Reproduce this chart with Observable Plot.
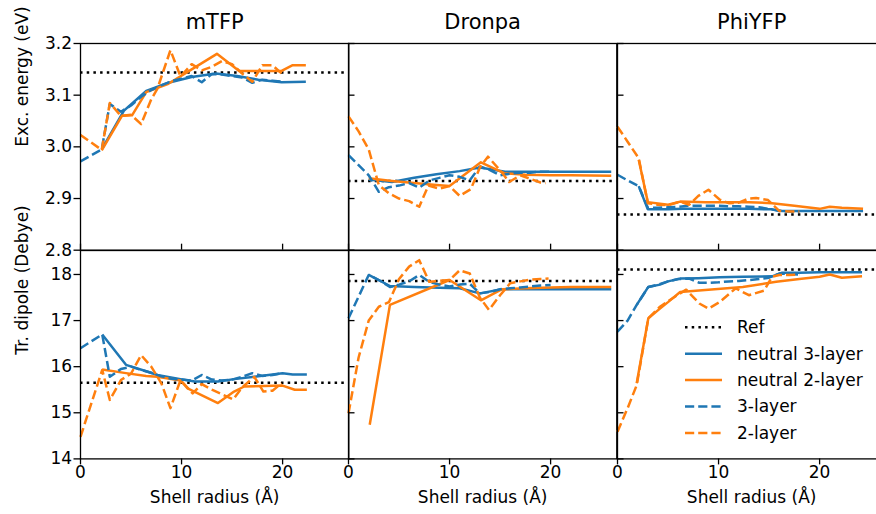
<!DOCTYPE html>
<html><head><meta charset="utf-8">
<script src="https://cdn.jsdelivr.net/npm/d3@7"></script>
<script src="https://cdn.jsdelivr.net/npm/@observablehq/plot@0.6"></script>
<style>
body{margin:0;background:#fff;}
#chart{position:relative;width:876px;height:514px;overflow:hidden;background:#fff;font-family:"DejaVu Sans",sans-serif;}
#chart svg{position:absolute;}
</style></head><body><div id="chart"></div>
<script>
// ---------- data ----------
const proteins = ["mTFP", "Dronpa", "PhiYFP"];
const rowLabels = ["Exc. energy (eV)", "Tr. dipole (Debye)"];
const xLabel = "Shell radius (Å)";
const seriesNames = ["Ref", "neutral 3-layer", "neutral 2-layer", "3-layer", "2-layer"];
const xTicks = [0, 10, 20];
const excTicks = [2.8, 2.9, 3.0, 3.1, 3.2];
const dipTicks = [14, 15, 16, 17, 18];
const refExc = [3.144, 2.934, 2.869];
const refDip = [15.65, 17.86, 18.11];

// Excitation energy (eV)
const mTFP_exc_n3 = [[2.1,2.995],[4.3,3.070],[6.5,3.108],[8.7,3.124],[11,3.135],[13.4,3.142],[15.5,3.137],[17.6,3.130],[19.9,3.125],[22.3,3.126]];
const mTFP_exc_n2 = [[2.1,2.993],[4.1,3.060],[5.1,3.061],[6.5,3.106],[8.7,3.122],[11,3.150],[13.5,3.180],[15.7,3.147],[17.8,3.147],[19.9,3.147],[21,3.158],[22.3,3.158]];
const mTFP_exc_l3 = [[0,2.972],[2.1,2.995],[2.9,3.083],[4,3.068],[5,3.080],[6,3.097],[7,3.110],[8,3.119],[9,3.127],[10,3.132],[11,3.137],[12,3.125],[13,3.141],[14,3.140],[15,3.137],[16,3.134],[17,3.124],[18,3.130],[19,3.128],[20,3.126]];
const mTFP_exc_l2 = [[0,3.023],[2.1,2.994],[2.9,3.085],[4,3.060],[5,3.062],[6,3.044],[7,3.092],[7.6,3.112],[8.9,3.187],[9.9,3.136],[11,3.160],[12,3.148],[13,3.155],[14,3.166],[15,3.160],[16,3.142],[17,3.126],[18,3.158],[19,3.158],[20,3.140]];

const Dronpa_exc_n3 = [[2,2.937],[4.3,2.932],[6.5,2.940],[8.7,2.947],[11,2.953],[13,2.960],[15.5,2.952],[17.5,2.952],[20,2.952],[22,2.952],[24,2.952],[26,2.952]];
const Dronpa_exc_n2 = [[2,2.939],[4.3,2.934],[6.5,2.930],[8.7,2.926],[10,2.924],[13.1,2.970],[15.4,2.949],[17.5,2.946],[20,2.945],[22,2.945],[26,2.944]];
const Dronpa_exc_l3 = [[0,2.984],[2,2.945],[3,2.913],[4,2.922],[5,2.925],[6,2.930],[7,2.921],[8,2.935],[9,2.940],[10,2.945],[11,2.942],[12,2.935],[13,2.962],[14,2.955],[15,2.945],[16,2.948],[17,2.950],[18,2.950],[19,2.952],[20,2.952]];
const Dronpa_exc_l2 = [[0,3.059],[1,3.030],[2,2.995],[3,2.926],[4,2.910],[5,2.900],[6,2.895],[7,2.884],[7.9,2.925],[9,2.919],[10,2.924],[11,2.905],[12.1,2.918],[13,2.960],[13.8,2.981],[15.2,2.950],[15.9,2.932],[17,2.945],[18,2.938],[19,2.931],[19.5,2.930]];

const PhiYFP_exc_n3 = [[2.1,2.924],[3,2.879],[5,2.879],[6.5,2.880],[9,2.880],[11,2.880],[13,2.880],[15.3,2.879],[16.3,2.876],[18,2.876],[20,2.876],[22,2.876],[24.3,2.876]];
const PhiYFP_exc_n2 = [[2.1,2.975],[3,2.893],[5,2.888],[6.2,2.894],[8.7,2.893],[11,2.893],[13,2.893],[15.3,2.891],[17.5,2.886],[20,2.880],[21,2.884],[22.2,2.882],[24.3,2.880]];
const PhiYFP_exc_l3 = [[0,2.946],[1,2.935],[2.1,2.924],[3,2.882],[4,2.882],[5,2.883],[6,2.884],[7,2.886],[8,2.886],[9,2.886],[10,2.886],[11,2.885],[12,2.885],[13,2.884],[14,2.883],[15,2.880],[16,2.876],[17,2.875],[18,2.875]];
const PhiYFP_exc_l2 = [[0,3.039],[1,3.010],[2.1,2.978],[3,2.891],[4,2.888],[5,2.887],[6.2,2.894],[7.1,2.888],[8,2.905],[9,2.917],[10.1,2.898],[11,2.891],[12,2.892],[13,2.900],[13.7,2.901],[14.9,2.897],[16,2.876],[17,2.875],[18,2.875]];

// Transition dipole (Debye)
const mTFP_dip_n3 = [[2.15,16.70],[4.5,16.04],[6.5,15.90],[7.6,15.82],[9.9,15.73],[11.3,15.68],[13.6,15.68],[15.2,15.73],[17.2,15.78],[20,15.86],[21,15.83],[22.4,15.83]];
const mTFP_dip_n2 = [[2.15,15.94],[4.5,15.86],[6.5,15.80],[7.6,15.78],[9.9,15.70],[10.6,15.53],[13.6,15.21],[15.2,15.46],[16.2,15.57],[20,15.59],[21.2,15.50],[22.4,15.50]];
const mTFP_dip_l3 = [[0,16.40],[2.15,16.70],[2.9,15.78],[4,15.95],[5,16.00],[6,15.93],[7,15.87],[8,15.79],[9,15.74],[10,15.72],[11,15.70],[12,15.82],[13,15.72],[14,15.70],[15,15.72],[16,15.78],[17,15.86],[18,15.80],[19,15.82],[20,15.86]];
const mTFP_dip_l2 = [[0,14.48],[2.15,15.93],[2.9,15.28],[4,15.71],[5,15.85],[6,16.25],[7,16.00],[8,15.64],[8.9,15.10],[9.9,15.71],[11.1,15.42],[12,15.62],[13,15.50],[14,15.40],[15.1,15.29],[16,15.55],[17.2,15.78],[18.1,15.46],[19,15.48],[19.9,15.64]];

const Dronpa_dip_n3 = [[2,17.99],[4.1,17.75],[6.5,17.73],[9,17.71],[11,17.70],[13,17.59],[15.2,17.68],[17.5,17.68],[20,17.68],[22,17.68],[26,17.68]];
const Dronpa_dip_n2 = [[2.1,14.74],[4.1,17.34],[10,17.88],[13.1,17.44],[15.2,17.68],[17.5,17.70],[20,17.72],[22,17.73],[26,17.73]];
const Dronpa_dip_l3 = [[0,17.05],[2,17.99],[3,17.88],[4.1,17.73],[5,17.78],[6,17.85],[7,17.99],[8,17.84],[9,17.78],[10,17.74],[11,17.78],[12,17.80],[13,17.59],[14,17.62],[15,17.68],[16,17.70],[17,17.72],[18,17.74],[19,17.76],[20,17.77]];
const Dronpa_dip_l2 = [[0,14.99],[1,16.20],[2,17.00],[3,17.30],[4,17.40],[5,17.90],[6,18.17],[7,18.31],[8,17.84],[9,17.86],[10,17.88],[11,18.09],[12,18.02],[13,17.50],[13.9,17.23],[15,17.55],[16,17.81],[17,17.85],[18,17.89],[19,17.90],[19.8,17.91]];

const PhiYFP_dip_n3 = [[1.9,17.34],[3.05,17.73],[4.2,17.78],[5,17.85],[6.2,17.91],[8,17.92],[10.1,17.94],[12.4,17.95],[15.3,17.96],[16.3,18.04],[18,18.04],[20,18.05],[22,18.05],[24.2,18.05]];
const PhiYFP_dip_n2 = [[1.9,15.64],[3.05,17.05],[4.2,17.26],[5,17.40],[6.2,17.62],[12.4,17.73],[15.7,17.84],[18,17.90],[20,17.95],[21,18.00],[22.2,17.93],[24.2,17.96]];
const PhiYFP_dip_l3 = [[0,16.76],[1,17.00],[1.9,17.34],[3.05,17.73],[4,17.78],[5,17.85],[6,17.90],[7.1,17.91],[8.1,17.82],[9,17.82],[10,17.83],[11,17.85],[12,17.86],[13,17.88],[14,17.90],[15,17.93],[16,18.02],[17,18.01],[18,18.00]];
const PhiYFP_dip_l2 = [[0,14.59],[1,15.10],[1.9,15.60],[3.05,17.05],[4.2,17.30],[5,17.42],[6.2,17.59],[6.8,17.67],[8.1,17.37],[9,17.26],[10.1,17.40],[11.7,17.70],[13,17.55],[14.5,17.65],[15.3,17.95],[16,17.99],[17,17.99],[18,18.00]];

const excSeries = [
  [mTFP_exc_n3, mTFP_exc_n2, mTFP_exc_l3, mTFP_exc_l2],
  [Dronpa_exc_n3, Dronpa_exc_n2, Dronpa_exc_l3, Dronpa_exc_l2],
  [PhiYFP_exc_n3, PhiYFP_exc_n2, PhiYFP_exc_l3, PhiYFP_exc_l2]
];
const dipSeries = [
  [mTFP_dip_n3, mTFP_dip_n2, mTFP_dip_l3, mTFP_dip_l2],
  [Dronpa_dip_n3, Dronpa_dip_n2, Dronpa_dip_l3, Dronpa_dip_l2],
  [PhiYFP_dip_n3, PhiYFP_dip_n2, PhiYFP_dip_l3, PhiYFP_dip_l2]
];

// ---------- styling / layout ----------
const BLUE = "#1f77b4", ORANGE = "#ff7f0e";
const LW = 2.5;
const DASH = "9.2,4";
const DOT = "2.5,4.2";
const seriesStyle = [
  {stroke: BLUE, dash: null},
  {stroke: ORANGE, dash: null},
  {stroke: BLUE, dash: DASH},
  {stroke: ORANGE, dash: DASH}
];
const colLeft = [80, 348.3, 617.3];
const rowTop = [43.3, 250.3];
const panelW = 268.3;
const rowH = [206.7, 208.4];
const xDomain = [0, 26.55];
const yDomains = [[2.8, 3.2], [14, 18.52]];
const M = {l: 80, r: 12, t: 45, b: 60};

const chart = document.getElementById("chart");

function panel(r, c) {
  const ref = r === 0 ? refExc[c] : refDip[c];
  const series = r === 0 ? excSeries[c] : dipSeries[c];
  const yTicks = r === 0 ? excTicks : dipTicks;
  const marks = [];
  marks.push(Plot.ruleY([ref], {y: d => d, stroke: "black", strokeWidth: LW, strokeDasharray: DOT}));
  series.forEach((s, i) => {
    marks.push(Plot.line(s, {x: d => d[0], y: d => d[1], stroke: seriesStyle[i].stroke,
      strokeWidth: LW, strokeDasharray: seriesStyle[i].dash, strokeLinejoin: "round", strokeLinecap: "butt"}));
  });
  marks.push(Plot.frame({stroke: "black", strokeWidth: 1.3}));
  // x axis
  if (r === 1) {
    marks.push(Plot.axisX({anchor: "bottom", ticks: xTicks, tickSize: 6, tickPadding: 1, strokeWidth: 1.3,
      tickFormat: d3.format("d"), label: null, fontSize: 17}));
    marks.push(Plot.text([xLabel], {text: d => d, frameAnchor: "bottom", lineAnchor: "middle", dy: 38.5, fontSize: 17}));
  } else {
    marks.push(Plot.axisX({anchor: "bottom", ticks: xTicks, tickSize: 6, dy: -6, strokeWidth: 1.3,
      tickFormat: () => "", label: null}));
    marks.push(Plot.text([proteins[c]], {text: d => d, frameAnchor: "top", lineAnchor: "middle", dy: -21, fontSize: 21}));
  }
  // y axis
  if (c === 0) {
    marks.push(Plot.axisY({anchor: "left", ticks: yTicks, tickSize: 6.5, tickPadding: 2, strokeWidth: 1.3,
      tickFormat: r === 0 ? d3.format(".1f") : d3.format("d"), label: null, fontSize: 17}));
    marks.push(Plot.text([rowLabels[r]], {text: d => d, frameAnchor: "left", lineAnchor: "middle", rotate: -90, dx: -58, fontSize: 17}));
  } else {
    marks.push(Plot.axisY({anchor: "left", ticks: yTicks, tickSize: 6.5, dx: 6.5, strokeWidth: 1.3,
      tickFormat: () => "", label: null}));
  }
  const svg = Plot.plot({
    width: panelW + M.l + M.r,
    height: rowH[r] + M.t + M.b,
    marginLeft: M.l, marginRight: M.r, marginTop: M.t, marginBottom: M.b,
    x: {domain: xDomain},
    y: {domain: yDomains[r]},
    style: {background: "transparent", overflow: "visible", fontFamily: "DejaVu Sans", fontSize: "17px", color: "black"},
    marks
  });
  svg.style.left = (colLeft[c] - M.l) + "px";
  svg.style.top = (rowTop[r] - M.t) + "px";
  chart.appendChild(svg);
}

for (let r = 0; r < 2; r++) for (let c = 0; c < 3; c++) panel(r, c);

// ---------- legend (PhiYFP dipole panel) ----------
const legendStyles = [
  {stroke: "black", dash: DOT},
  {stroke: BLUE, dash: null},
  {stroke: ORANGE, dash: null},
  {stroke: BLUE, dash: DASH},
  {stroke: ORANGE, dash: DASH}
];
const leg = d3.create("svg").attr("width", 876).attr("height", 514)
  .style("left", "0px").style("top", "0px").style("overflow", "visible")
  .attr("font-family", "DejaVu Sans").attr("font-size", 17);
const rowY0 = 327.3, rowStep = 26.4;
seriesNames.forEach((name, i) => {
  const y = rowY0 + i * rowStep;
  leg.append("line").attr("x1", 685).attr("x2", 722).attr("y1", y).attr("y2", y)
    .attr("stroke", legendStyles[i].stroke).attr("stroke-width", LW)
    .attr("stroke-dasharray", legendStyles[i].dash);
  leg.append("text").attr("x", 737).attr("y", y).attr("dy", "0.35em").attr("fill", "black").text(name);
});
chart.appendChild(leg.node());
</script>
</body></html>
